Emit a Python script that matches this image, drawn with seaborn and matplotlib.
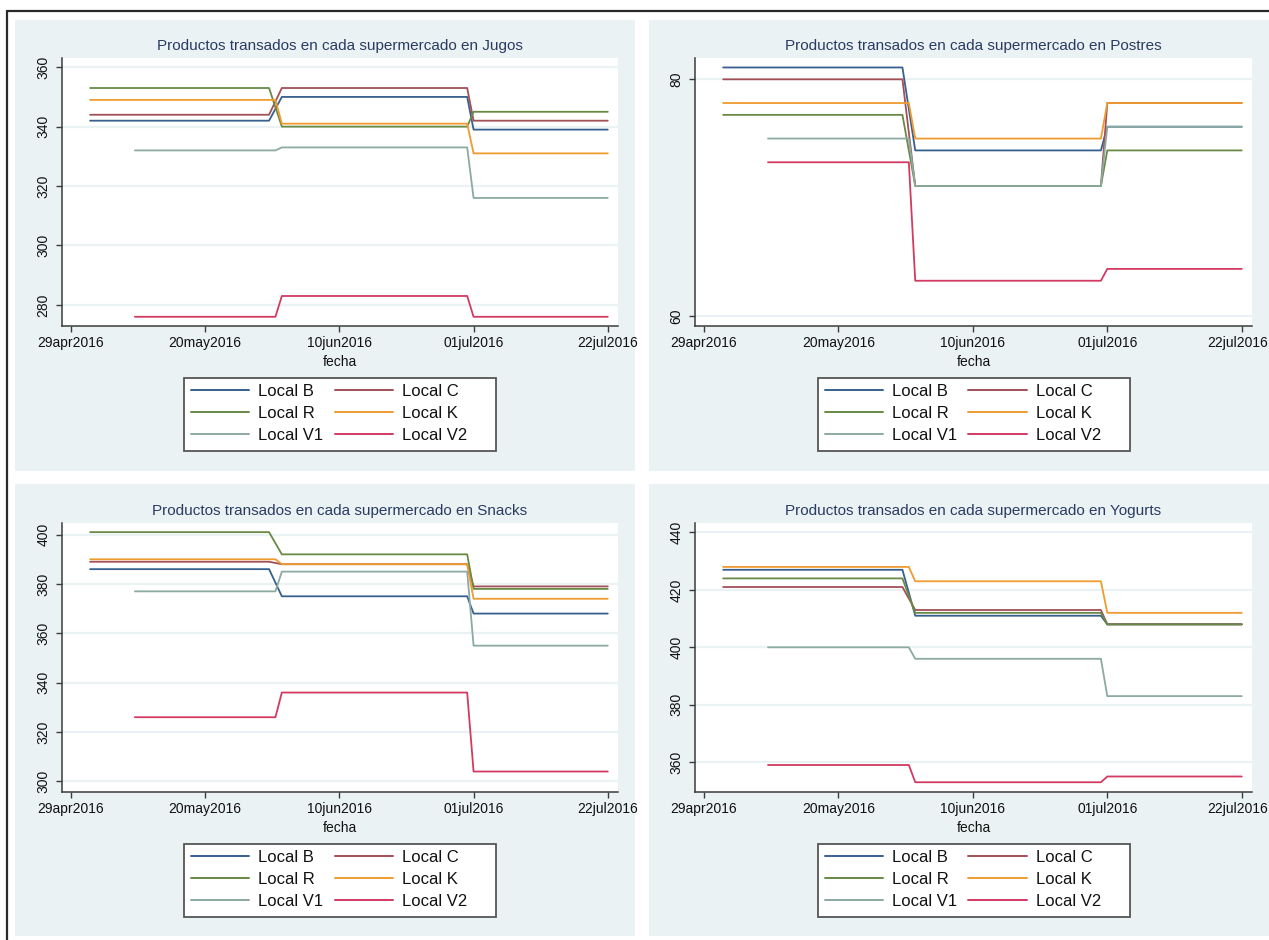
import numpy as np
import pandas as pd
import matplotlib
matplotlib.use("Agg")
import matplotlib.pyplot as plt
import matplotlib.dates as mdates
from matplotlib.lines import Line2D
from matplotlib.patches import Rectangle
from matplotlib.transforms import ScaledTranslation
import seaborn as sns

# ---- data -------------------------------------------------------------
tiendas = ["Local B", "Local C", "Local R", "Local K", "Local V1", "Local V2"]
colores = ["#36608e", "#a24f58", "#688a45", "#ef9b2f", "#8caaa1", "#d23a62"]

# first day observed and last day of the first price block for each store
primer_dia = ["2016-05-02", "2016-05-02", "2016-05-02", "2016-05-02", "2016-05-09", "2016-05-09"]
fin_tramo1 = ["2016-05-30", "2016-05-30", "2016-05-30", "2016-05-31", "2016-05-31", "2016-05-31"]
inicio_tramo2 = "2016-06-01"
fin_tramo2 = "2016-06-30"
inicio_tramo3 = "2016-07-01"
ultimo_dia = "2016-07-22"

jugos_antes = [342, 344, 353, 349, 332, 276]
jugos_medio = [350, 353, 340, 341, 333, 283]
jugos_despues = [339, 342, 345, 331, 316, 276]

postres_antes = [81, 80, 77, 78, 75, 73]
postres_medio = [74, 71, 71, 75, 71, 63]
postres_despues = [76, 78, 74, 78, 76, 64]

snacks_antes = [386, 389, 401, 390, 377, 326]
snacks_medio = [375, 388, 392, 388, 385, 336]
snacks_despues = [368, 379, 378, 374, 355, 304]

yogurts_antes = [427, 421, 424, 428, 400, 359]
yogurts_medio = [411, 413, 412, 423, 396, 353]
yogurts_despues = [408, 408, 408, 412, 383, 355]

categorias = ["Jugos", "Postres", "Snacks", "Yogurts"]
niveles = [
    (jugos_antes, jugos_medio, jugos_despues),
    (postres_antes, postres_medio, postres_despues),
    (snacks_antes, snacks_medio, snacks_despues),
    (yogurts_antes, yogurts_medio, yogurts_despues),
]
y_ticks = [[280, 300, 320, 340, 360], [60, 80], [300, 320, 340, 360, 380, 400],
           [360, 380, 400, 420, 440]]
y_lims = [(272.9, 363.1), (59.18, 81.8), (295.7, 404.7), (349.6, 443.3)]
x_ticks = ["2016-04-29", "2016-05-20", "2016-06-10", "2016-07-01", "2016-07-22"]


def tabla(antes, medio, despues):
    filas = []
    for i, t in enumerate(tiendas):
        fechas = [primer_dia[i], fin_tramo1[i], inicio_tramo2, fin_tramo2,
                  inicio_tramo3, ultimo_dia]
        valores = [antes[i], antes[i], medio[i], medio[i], despues[i], despues[i]]
        for f, v in zip(fechas, valores):
            filas.append({"fecha": pd.Timestamp(f), "valor": v, "local": t})
    return pd.DataFrame(filas)


# ---- style ------------------------------------------------------------
sns.set_theme(style="ticks")
plt.rcParams["font.family"] = ["Liberation Sans", "DejaVu Sans"]

FONDO = "#eaf2f3"
EJE = "#3c3c3c"
W, H = 1269, 940

fig = plt.figure(figsize=(W / 100, H / 100), dpi=100)
fig.patch.set_facecolor("white")


def fx(px):
    return px / W


def fy(py):
    return 1 - py / H


# outer frame lines (top and left)
fig.add_artist(Line2D([fx(7), fx(W)], [fy(11), fy(11)], color="#2a2a2a", lw=1.6))
fig.add_artist(Line2D([fx(7), fx(7)], [fy(11), fy(H)], color="#2a2a2a", lw=1.6))

# panel regions: (left, top, right, bottom) in pixels
paneles = [(15, 20, 635, 471), (649, 20, W, 471), (15, 484, 635, 936), (649, 484, W, 936)]
# plot areas
areas = [(62, 58, 618, 326), (695, 58, 1252, 326), (62, 523, 618, 792), (695, 523, 1252, 792)]

x0 = mdates.date2num(pd.Timestamp("2016-04-29"))
x_lim = (x0 - 1.4, x0 + 85.6)
tick_pos = [mdates.date2num(pd.Timestamp(d)) for d in x_ticks]
tick_lab = [pd.Timestamp(d).strftime("%d%b%Y").lower() for d in x_ticks]

# legend entries laid out row-wise in two columns: B C / R K / V1 V2
orden_leyenda = [0, 2, 4, 1, 3, 5]

for k in range(4):
    pl, pt, pr, pb = paneles[k]
    fig.add_artist(Rectangle((fx(pl), fy(pb)), fx(pr - pl), (pb - pt) / H,
                             facecolor=FONDO, edgecolor="none", zorder=0))
    al, at, ar, ab = areas[k]
    ax = fig.add_axes([fx(al), fy(ab), fx(ar - al), (ab - at) / H])
    ax.set_facecolor("white")

    df = tabla(*niveles[k])
    sns.lineplot(data=df, x="fecha", y="valor", hue="local", hue_order=tiendas,
                 palette=colores, estimator=None, sort=False, linewidth=1.3,
                 legend=False, ax=ax)

    ax.set_xlim(x_lim)
    ax.set_ylim(y_lims[k])
    ax.set_xticks(tick_pos)
    ax.set_xticklabels(tick_lab)
    ax.set_yticks(y_ticks[k])
    ax.set_yticklabels([str(v) for v in y_ticks[k]], rotation=90, va="center")
    for v in y_ticks[k]:
        ax.axhline(v, color=FONDO, lw=1.6, zorder=0.5)
    ax.grid(False)
    for s in ["top", "right"]:
        ax.spines[s].set_visible(False)
    for s in ["left", "bottom"]:
        ax.spines[s].set_color(EJE)
        ax.spines[s].set_linewidth(1.1)
    ax.tick_params(axis="both", direction="out", length=4.5, width=1.0, color=EJE,
                   labelsize=10, labelcolor="#111111")
    ax.tick_params(axis="x", pad=3)
    ax.tick_params(axis="y", pad=4)
    # keep the last date label inside the page on the right-hand panels
    if k % 2 == 1:
        ult = ax.get_xticklabels()[-1]
        ult.set_horizontalalignment("right")
        ult.set_transform(ult.get_transform() + ScaledTranslation(0.26, 0, fig.dpi_scale_trans))
    ax.set_ylabel("")
    ax.set_xlabel("fecha", fontsize=10, color="#111111", labelpad=3)

    cx = (al + ar) / 2
    fig.text(fx(cx), fy(at - 12), f"Productos transados en cada supermercado en {categorias[k]}",
             ha="center", va="center", fontsize=11, color="#2a3b62")

    # legend box
    top_leg = ab + 52
    fig.add_artist(Rectangle((fx(cx - 156), fy(top_leg + 73)), fx(312), 73 / H,
                             facecolor="white", edgecolor="#555555", lw=1.3, zorder=2))
    handles = [Line2D([], [], color=colores[i], lw=1.4) for i in orden_leyenda]
    etiquetas = [tiendas[i] for i in orden_leyenda]
    leg = fig.legend(handles, etiquetas, ncol=2, loc="upper left",
                     bbox_to_anchor=(fx(cx - 149), fy(top_leg + 6)),
                     frameon=False, fontsize=12, handlelength=3.5, handletextpad=0.55,
                     columnspacing=0.68, labelspacing=0.41, borderpad=0, borderaxespad=0)
    leg.set_zorder(3)
    for t in leg.get_texts():
        t.set_color("#111111")

fig.savefig("out.png", dpi=100, facecolor="white")
